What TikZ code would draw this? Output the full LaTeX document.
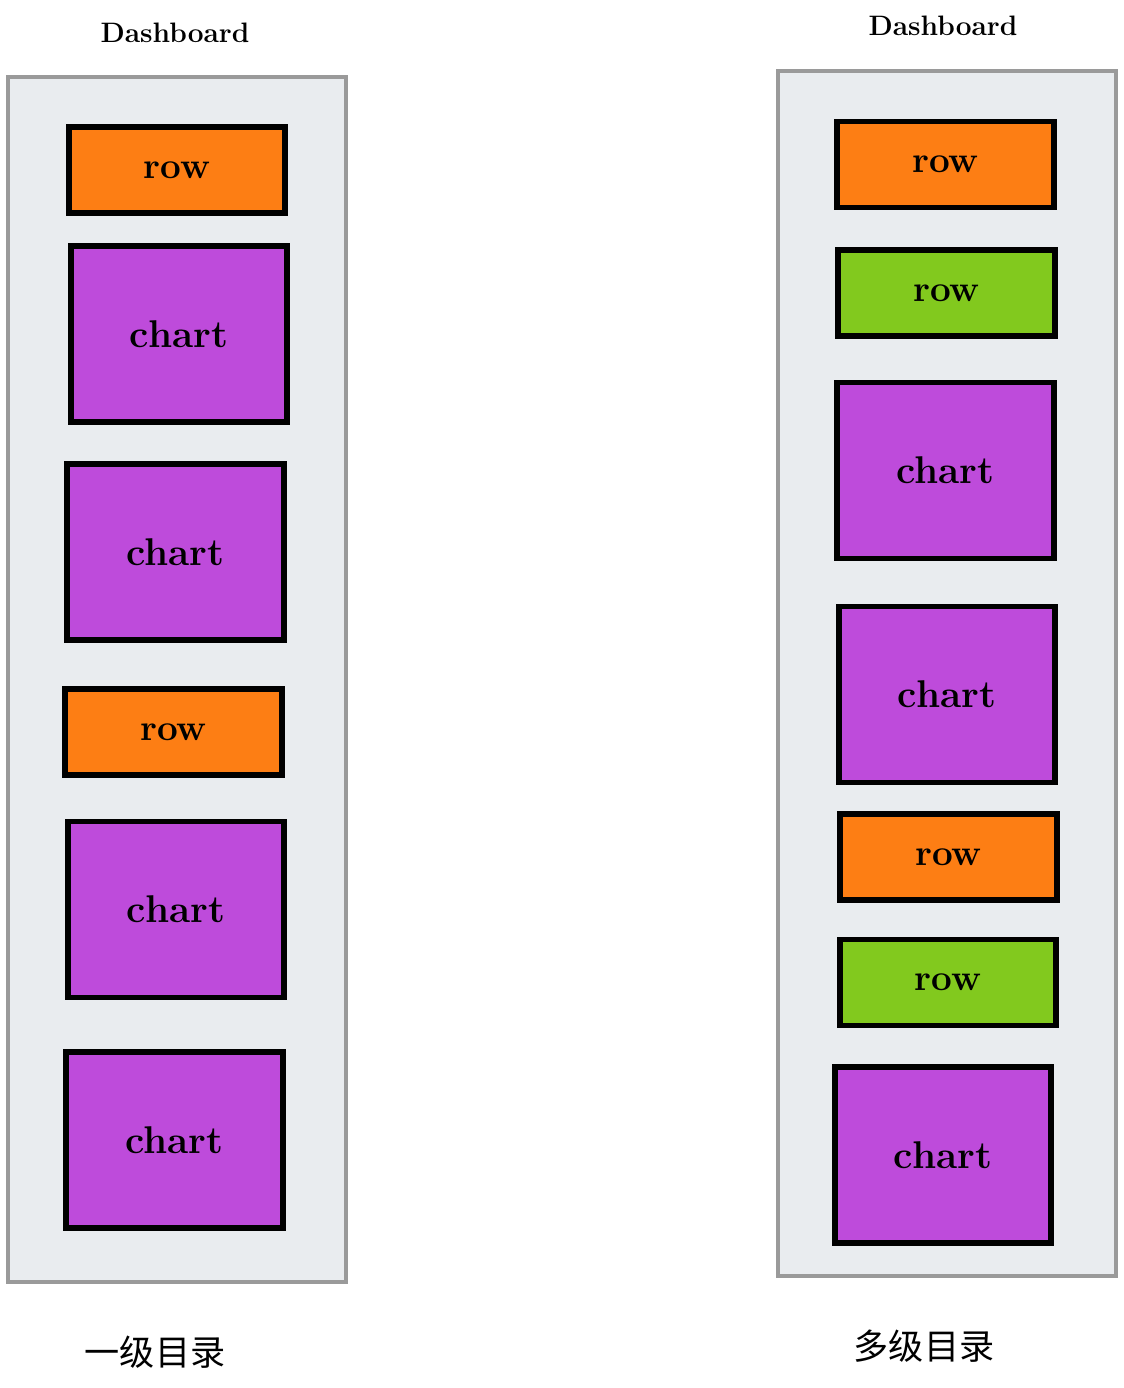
\documentclass[tikz,border=0pt]{standalone}
\usepackage{fontspec}
\usepackage{tikz}
\newfontfamily\cjk{Noto Sans CJK SC}
\definecolor{panelfill}{HTML}{E9ECEF}
\definecolor{paneldraw}{HTML}{9A9A9A}
\definecolor{roworange}{HTML}{FD7E14}
\definecolor{rowgreen}{HTML}{82C91E}
\definecolor{chartpurple}{HTML}{BE4BDB}

\begin{document}
\begin{tikzpicture}[x=0.02cm,y=-0.02cm]
		\tikzstyle{panel}=[rectangle, draw=paneldraw, fill=panelfill, line width=2.4pt, minimum width=6.76cm, minimum height=24.1cm]
		\tikzstyle{row box}=[rectangle, draw=black, line width=3.2pt, minimum width=4.33cm, minimum height=1.72cm, font=\bfseries\fontsize{21}{24}\selectfont]
		\tikzstyle{chart box}=[rectangle, draw=black, fill=chartpurple, line width=3.2pt, minimum width=4.33cm, minimum height=3.52cm, font=\bfseries\fontsize{22}{26}\selectfont]
		\tikzstyle{title}=[font=\bfseries\fontsize{16}{20}\selectfont]
		\tikzstyle{caption}=[font=\cjk\fontsize{20}{24}\selectfont]

		\useasboundingbox (0,0) rectangle (1124,1388);

		% left: one level
		\node [panel] (left) at (177,679.5) {};
		\node [title] (left title) at (175,33) {Dashboard};
		\node [row box,fill=roworange] (l row1) at (177,170) {row};
		\node [chart box] (l chart1) at (179,334) {chart};
		\node [chart box] (l chart2) at (175.5,552) {chart};
		\node [row box,fill=roworange] (l row2) at (173.5,732) {row};
		\node [chart box] (l chart3) at (176,909.5) {chart};
		\node [chart box] (l chart4) at (174.5,1140) {chart};
		\node [caption] (left caption) at (155,1352) {一级目录};

		% right: several levels
		\node [panel] (right) at (947,673.5) {};
		\node [title] (right title) at (943,26) {Dashboard};
		\node [row box,fill=roworange] (r row1) at (945.5,164.5) {row};
		\node [row box,fill=rowgreen] (r row2) at (946.5,293) {row};
		\node [chart box] (r chart1) at (945.5,470.5) {chart};
		\node [chart box] (r chart2) at (947,694.5) {chart};
		\node [row box,fill=roworange] (r row3) at (948.5,857) {row};
		\node [row box,fill=rowgreen] (r row4) at (948,982.5) {row};
		\node [chart box] (r chart3) at (943,1155) {chart};
		\node [caption] (right caption) at (924,1346) {多级目录};
	\end{tikzpicture}
\end{document}
